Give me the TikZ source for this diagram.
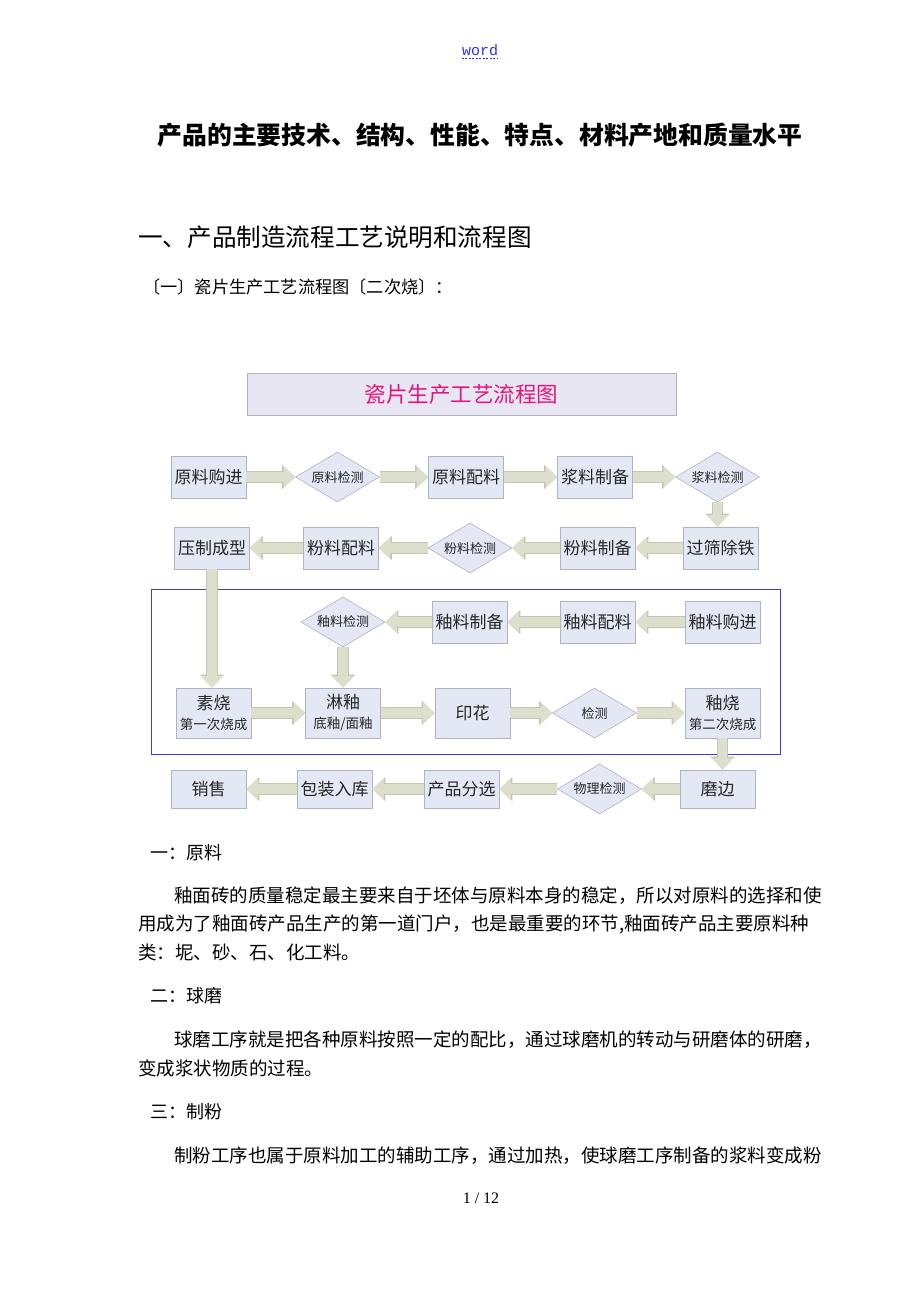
\documentclass[tikz,border=0pt]{standalone}
\usepackage{fontspec}
\setmainfont{Noto Sans CJK SC}
\newfontfamily\monofont{Liberation Mono}
\newfontfamily\serifont{Liberation Serif}
\usetikzlibrary{shapes.geometric,arrows.meta,calc}
\definecolor{boxfill}{HTML}{E4E8F5}
\definecolor{boxline}{HTML}{B2B2C0}
\definecolor{boxtext}{HTML}{262626}
\definecolor{arrowfill}{HTML}{DCDFCB}
\definecolor{arrowline}{HTML}{C3C7B0}
\definecolor{titlefill}{HTML}{E9E6F3}
\definecolor{titlepink}{HTML}{E6147A}
\definecolor{framblue}{HTML}{3A3AF0}
\definecolor{linkblue}{HTML}{2F2FFF}
\newcommand\fsz[1]{\fontsize{#1}{#1}\selectfont}
\begin{document}
\begin{tikzpicture}[x=1pt,y=-1pt,
  box/.style={rectangle, draw=boxline, line width=0.6pt, fill=boxfill, minimum width=75pt, minimum height=42pt, inner sep=0pt, text=boxtext, font=\fsz{17}},
  dia/.style={diamond, draw=boxline, line width=0.6pt, fill=boxfill, minimum width=84pt, minimum height=50pt, aspect=1.68, inner sep=0pt, text=boxtext, font=\fsz{13}},
  blk/.style={draw=arrowfill, line width=9.6pt, -{Triangle[width=21.5pt,length=11.5pt,line width=0pt]},
    preaction={draw=arrowline, line width=11.2pt, -{Triangle[width=24pt,length=13pt,line width=0pt]}}},
  txt/.style={anchor=west, inner sep=0pt, text=black},
  body/.style={txt, font=\fsz{18.5}},
  head/.style={txt, font=\fsz{18}}
]
\useasboundingbox (0,0) rectangle (920,1302);
\fill[white] (0,0) rectangle (920,1302);

% header link
\node[inner sep=0pt, text=linkblue, font=\monofont\fsz{15}] (word) at (480,50) {word};
\draw[linkblue, dashed, line width=0.6pt, dash pattern=on 2pt off 1.5pt] ($(word.south west)+(0,3)$) -- ($(word.south east)+(0,3)$);

% titles
\node[inner sep=0pt, font=\fsz{24.8}\bfseries] (title) at (480,135) {产品的主要技术、结构、性能、特点、材料产地和质量水平};
\node[txt, font=\fsz{24.6}] (sec) at (138,237) {一、产品制造流程工艺说明和流程图};
\node[txt, font=\fsz{17.2}] (sub) at (143,287) {〔一〕瓷片生产工艺流程图〔二次烧〕：};

% flowchart title
\node[rectangle, draw=boxline, line width=0.6pt, fill=titlefill, minimum width=429pt, minimum height=42pt, inner sep=0pt, text=titlepink, font=\fsz{21.5}] (ftitle) at (461.5,394) {瓷片生产工艺流程图};

% frame
\node[rectangle, draw=framblue, line width=0.8pt, minimum width=629pt, minimum height=165pt, inner sep=0pt] (frame) at (465.5,671.5) {};

% row 1
\node[box] (ylgj) at (208.5,477) {原料购进};
\node[dia] (yljc) at (337.5,477) {原料检测};
\node[box] (ylpl) at (466,477) {原料配料};
\node[box] (jlzb) at (595,477) {浆料制备};
\node[dia] (jljc) at (717.5,477) {浆料检测};
% row 2
\node[box] (gscf) at (720.5,548) {过筛除铁};
\node[box] (flzb) at (597.5,548) {粉料制备};
\node[dia] (fljc) at (470,548) {粉料检测};
\node[box] (flpl) at (341,548) {粉料配料};
\node[box] (yzcx) at (212,548) {压制成型};
% row 3
\node[box] (yygj) at (722.5,622) {釉料购进};
\node[box] (yypl) at (597.5,622) {釉料配料};
\node[box] (yyzb) at (469.5,622) {釉料制备};
\node[dia] (yyjc) at (343,622) {釉料检测};
% row 4
\node[box, minimum height=50pt, align=center] (sushao) at (213.5,713) {\fsz{17}素烧\\[3pt]\fsz{13.5}第一次烧成};
\node[box, minimum height=50pt, align=center] (linyou) at (343,713) {\fsz{17}淋釉\\[3pt]\fsz{13.5}底釉/面釉};
\node[box, minimum height=50pt] (yinhua) at (472.5,713) {印花};
\node[dia] (jc) at (594.5,713) {检测};
\node[box, minimum height=50pt, align=center] (yushao) at (722.5,713) {\fsz{17}釉烧\\[3pt]\fsz{13.5}第二次烧成};
% row 5
\node[box, minimum height=38pt] (mobian) at (717.5,789) {磨边};
\node[dia] (wljc) at (599.5,789) {物理检测};
\node[box, minimum height=38pt] (cpfx) at (461.5,789) {产品分选};
\node[box, minimum height=38pt] (bzrk) at (334.5,789) {包装入库};
\node[box, minimum height=38pt] (xs) at (208.5,789) {销售};

% connectors
\draw[blk] (ylgj) -- (yljc);
\draw[blk] (yljc) -- (ylpl);
\draw[blk] (ylpl) -- (jlzb);
\draw[blk] (jlzb) -- (jljc);
\draw[blk] (jljc.south) -- (jljc.south |- gscf.north);
\draw[blk] (gscf) -- (flzb);
\draw[blk] (flzb) -- (fljc);
\draw[blk] (fljc) -- (flpl);
\draw[blk] (flpl) -- (yzcx);
\draw[blk] (yzcx.south) -- (yzcx.south |- sushao.north);
\draw[blk] (yygj) -- (yypl);
\draw[blk] (yypl) -- (yyzb);
\draw[blk] (yyzb) -- (yyjc);
\draw[blk] (yyjc.south) -- (yyjc.south |- linyou.north);
\draw[blk] (sushao) -- (linyou);
\draw[blk] (linyou) -- (yinhua);
\draw[blk] (yinhua) -- (jc);
\draw[blk] (jc) -- (yushao);
\draw[blk] (yushao.south) -- (yushao.south |- mobian.north);
\draw[blk] (mobian) -- (wljc);
\draw[blk] (wljc) -- (cpfx);
\draw[blk] (cpfx) -- (bzrk);
\draw[blk] (bzrk) -- (xs);

% body text
\node[head] (h1) at (150,853) {一：原料};
\node[body] (p1a) at (174,896) {釉面砖的质量稳定最主要来自于坯体与原料本身的稳定，所以对原料的选择和使};
\node[body] (p1b) at (138,924) {用成为了釉面砖产品生产的第一道门户，也是最重要的环节,釉面砖产品主要原料种};
\node[body] (p1c) at (138,952) {类：坭、砂、石、化工料。};
\node[head] (h2) at (150,996) {二：球磨};
\node[body] (p2a) at (174,1040) {球磨工序就是把各种原料按照一定的配比，通过球磨机的转动与研磨体的研磨，};
\node[body] (p2b) at (138,1068) {变成浆状物质的过程。};
\node[head] (h3) at (150,1112) {三：制粉};
\node[body] (p3a) at (174,1156) {制粉工序也属于原料加工的辅助工序，通过加热，使球磨工序制备的浆料变成粉};
\node[inner sep=0pt, font=\serifont\fsz{16}] (page) at (481,1198) {1 / 12};
\end{tikzpicture}
\end{document}
